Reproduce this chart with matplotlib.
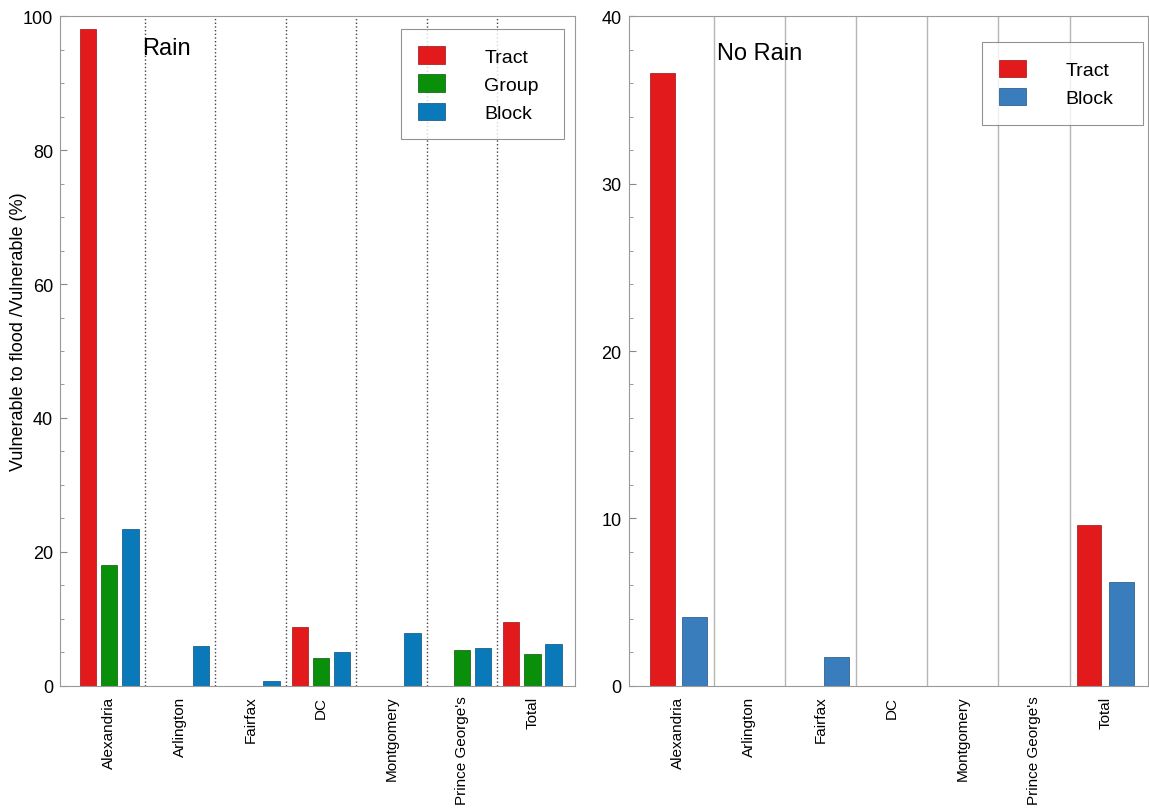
import matplotlib
matplotlib.use("Agg")
import matplotlib.pyplot as plt
import numpy as np
from matplotlib.ticker import MultipleLocator

plt.rcParams['font.family'] = ['Liberation Sans', 'DejaVu Sans']

places = ["Alexandria", "Arlington", "Fairfax", "DC", "Montgomery",
          "Prince George's", "Total"]

# rain scenario, % of vulnerable population also exposed to flooding
rain_tract = [98.1, 0, 0, 8.8, 0, 0, 9.6]
rain_group = [18.1, 0, 0, 4.2, 0, 5.3, 4.8]
rain_block = [23.5, 5.9, 0.8, 5.0, 7.9, 5.7, 6.2]

# no rain scenario
dry_tract = [36.6, 0, 0, 0, 0, 0, 9.6]
dry_block = [4.1, 0, 1.7, 0, 0, 0, 6.2]

RED = "#e31a1c"
GREEN = "#0a8f0a"
BLUE = "#0a79b9"
BLUE2 = "#3a7dbd"

fig = plt.figure(figsize=(11.49, 8.12), dpi=100)
ax1 = fig.add_axes([0.0522, 0.154, 0.448, 0.825])
ax2 = fig.add_axes([0.547, 0.154, 0.452, 0.825])

x = np.arange(1, len(places) + 1)


def style_axes(ax, ymax, major, minor, sep_color, sep_style):
    for xs in x[:-1] + 0.5:
        ax.axvline(xs, color=sep_color, linestyle=sep_style, linewidth=1, zorder=0)
    ax.set_xlim(0.3, 7.6)
    ax.set_ylim(0, ymax)
    ax.yaxis.set_major_locator(MultipleLocator(major))
    ax.yaxis.set_minor_locator(MultipleLocator(minor))
    ax.set_xticks(x)
    ax.set_xticklabels(places, rotation=90, fontsize=11)
    ax.tick_params(axis='x', length=0, pad=7)
    ax.tick_params(axis='y', which='both', direction='in', colors='#888888',
                   labelcolor='black', labelsize=13)
    ax.tick_params(axis='y', which='major', length=5, pad=5)
    ax.tick_params(axis='y', which='minor', length=3)
    for s in ax.spines.values():
        s.set_color('#999999')


def add_legend(ax, x0, width, top):
    # frame stretched to a fixed width, entries kept on the left
    leg = ax.legend(loc='upper left', bbox_to_anchor=(x0, 0.5, width, top - 0.5),
                    mode='expand', fontsize=14,
                    frameon=True, fancybox=False, edgecolor='#777777',
                    handlelength=1.4, handleheight=1.0, handletextpad=2.0,
                    labelspacing=0.45, borderpad=0.9, borderaxespad=0)
    leg.get_frame().set_linewidth(0.8)
    leg._legend_box.align = "left"
    return leg


# left panel: three resolutions under rain
w = 0.23
ax1.bar(x - 0.3, rain_tract, w, color=RED, edgecolor='#a01010', linewidth=0.5, label="Tract")
ax1.bar(x, rain_group, w, color=GREEN, edgecolor='#055a05', linewidth=0.5, label="Group")
ax1.bar(x + 0.3, rain_block, w, color=BLUE, edgecolor='#064f7a', linewidth=0.5, label="Block")
style_axes(ax1, 100, 20, 5, '#444444', ':')
ax1.set_ylabel("Vulnerable to flood /Vulnerable (%)", fontsize=13)
ax1.yaxis.set_label_coords(-0.064, 0.53)
ax1.text(0.159, 0.968, "Rain", transform=ax1.transAxes, fontsize=17, va='top')
add_legend(ax1, 0.662, 0.318, 0.981)

# right panel: tract vs block without rain
w2 = 0.35
ax2.bar(x - 0.227, dry_tract, w2, color=RED, edgecolor='#a01010', linewidth=0.5, label="Tract")
ax2.bar(x + 0.227, dry_block, w2, color=BLUE2, edgecolor='#1d4f80', linewidth=0.5, label="Block")
style_axes(ax2, 40, 10, 2, '#b5b5b5', '-')
ax2.text(0.17, 0.962, "No Rain", transform=ax2.transAxes, fontsize=17, va='top')
add_legend(ax2, 0.680, 0.310, 0.961)

fig.savefig("out.png", dpi=100)
